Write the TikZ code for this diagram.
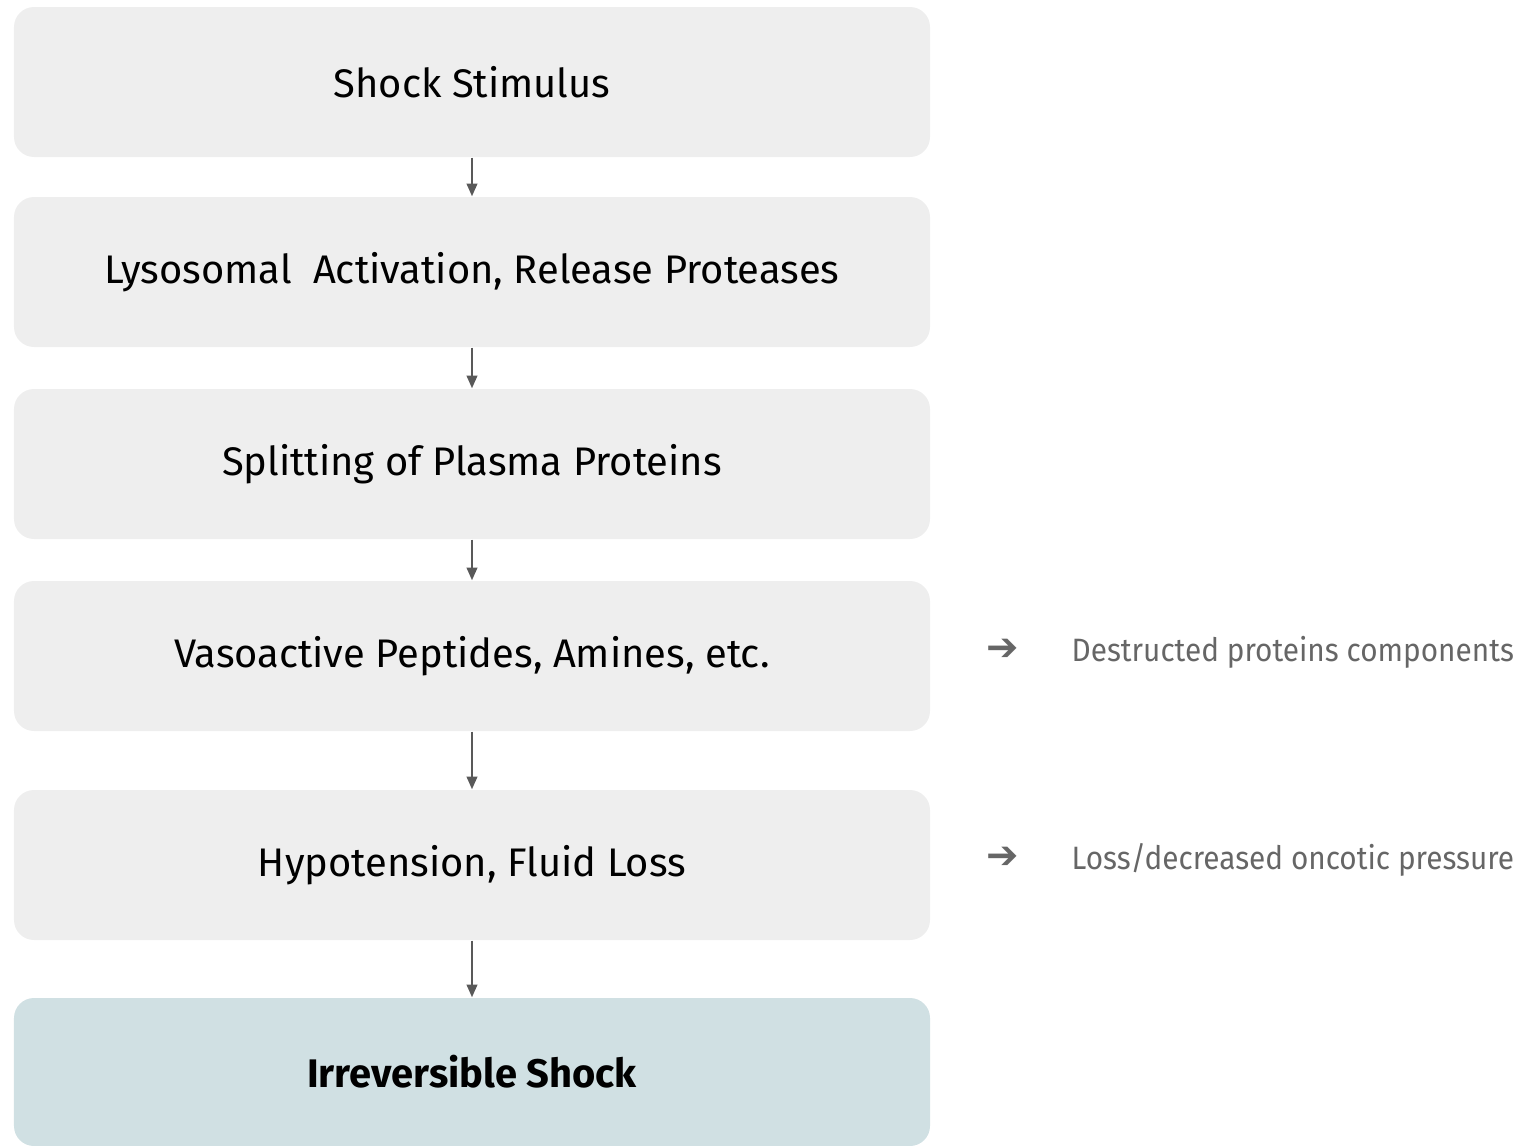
\documentclass[tikz,border=0pt]{standalone}
\usepackage{fontspec}
\setmainfont{Fira Sans}
\newfontfamily\notefont[FakeStretch=0.92]{Fira Sans}
\newfontfamily\symfont{DejaVu Sans}
\usetikzlibrary{arrows.meta}
\definecolor{boxgray}{HTML}{EEEEEE}
\definecolor{boxblue}{HTML}{D0E0E3}
\definecolor{linkgray}{HTML}{595959}
\definecolor{notegray}{HTML}{666666}
\tikzset{
  stage/.style={fill=boxgray, rounded corners=0.2cm, minimum width=9.16cm,
    minimum height=1.5cm, inner sep=0pt, font=\fontsize{11.35}{13}\selectfont, text=black},
  finalstage/.style={stage, fill=boxblue, minimum height=1.48cm, font=\fontsize{11.35}{13}\selectfont\bfseries},
  link/.style={draw=linkgray, line width=0.6pt, -{Triangle[width=3pt,length=3.6pt]}},
  notearrow/.style={text=notegray, font=\symfont\fontsize{11}{12}\selectfont, inner sep=0pt},
  note/.style={text=notegray, anchor=west, inner sep=0pt, font=\notefont\fontsize{9.2}{11}\selectfont}
}
\begin{document}
\begin{tikzpicture}
\useasboundingbox (0,0) rectangle (15.29,-11.46);
\node[stage] (s1) at (4.72,-0.82) {Shock Stimulus};
\node[stage] (s2) at (4.72,-2.72) {Lysosomal\ \ Activation, Release Proteases};
\node[stage] (s3) at (4.72,-4.64) {Splitting of Plasma Proteins};
\node[stage] (s4) at (4.72,-6.56) {Vasoactive Peptides, Amines, etc.};
\node[stage] (s5) at (4.72,-8.65) {Hypotension, Fluid Loss};
\node[finalstage] (s6) at (4.72,-10.72) {Irreversible Shock};
\draw[link] (s1) -- (s2);
\draw[link] (s2) -- (s3);
\draw[link] (s3) -- (s4);
\draw[link] (s4) -- (s5);
\draw[link] (s5) -- (s6);
\node[notearrow] (a1) at (10.03,-6.5) {➔};
\node[note] (n1) at (10.71,-6.52) {Destructed proteins components};
\node[notearrow] (a2) at (10.03,-8.58) {➔};
\node[note] (n2) at (10.71,-8.6) {Loss/decreased oncotic pressure};
\end{tikzpicture}
\end{document}
